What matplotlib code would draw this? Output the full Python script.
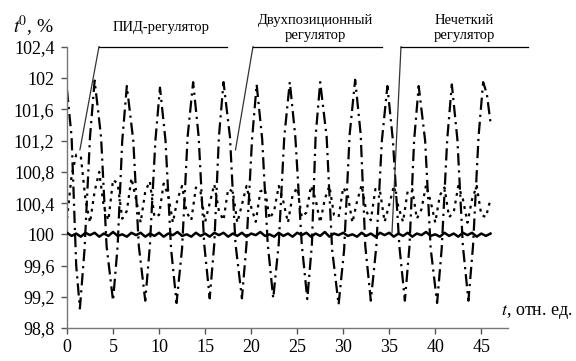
import numpy as np
import matplotlib
matplotlib.use("Agg")
import matplotlib.pyplot as plt
from matplotlib.lines import Line2D

plt.rcParams['font.family'] = ['Liberation Serif', 'DejaVu Serif']
plt.rcParams['mathtext.fontset'] = 'stix'

W, H = 576, 361

# двухпозиционный регулятор (large oscillation)
t_onoff = [0, 0.5, 1.0, 1.4, 1.9, 2.5, 3.0, 3.7, 4.3, 5.0, 5.5, 6.0, 6.5, 7.2, 7.8, 8.5,
           9.0, 9.6, 10.1, 10.7, 11.3, 11.9, 12.5, 13.1, 13.7, 14.3, 14.9, 15.5, 16.0, 16.5,
           17.0, 17.7, 18.3, 19.0, 19.5, 20.1, 20.6, 21.2, 21.8, 22.4, 23.0, 23.6, 24.2,
           24.8, 25.5, 26.1, 26.6, 27.0, 27.5, 28.2, 28.8, 29.5, 30.1, 30.7, 31.3, 31.9,
           32.4, 33.0, 33.6, 34.2, 34.8, 35.4, 36.1, 36.7, 37.2, 37.7, 38.2, 38.9, 39.5,
           40.2, 40.7, 41.3, 41.8, 42.4, 43.0, 43.6, 44.1, 44.7, 45.2, 45.6, 46.0]
onoff = [101.85, 101.25, 99.6, 99.05, 99.8, 101.25, 101.97, 101.25, 99.85, 99.15,
         99.85, 101.2, 101.9, 101.2, 99.85, 99.15, 99.85, 101.2, 101.88, 101.2,
         99.82, 99.12, 99.82, 101.25, 101.95, 101.25, 99.88, 99.18, 99.88, 101.25,
         101.95, 101.25, 99.88, 99.18, 99.88, 101.22, 101.92, 101.22, 99.88, 99.18,
         99.88, 101.25, 101.95, 101.25, 99.87, 99.17, 99.87, 101.25, 101.95, 101.25,
         99.8, 99.1, 99.8, 101.28, 101.98, 101.28, 99.85, 99.15, 99.85, 101.2,
         101.9, 101.2, 99.85, 99.15, 99.85, 101.2, 101.9, 101.2, 99.82, 99.12,
         99.82, 101.22, 101.92, 101.22, 99.85, 99.15, 99.85, 101.25, 101.95, 101.8,
         101.43]

# ПИД and нечеткий: sampled every 0.5
t_step = np.arange(0, 46.01, 0.5)
pid = [100.20, 100.75, 101.02, 101.00, 100.45, 100.15, 100.55, 100.80, 100.35, 100.18,
       100.70, 100.65, 100.20, 100.30, 100.72, 100.45, 100.15, 100.55, 100.68, 100.22,
       100.25, 100.65, 100.50, 100.15, 100.45, 100.62, 100.28, 100.18, 100.60, 100.55,
       100.16, 100.40, 100.64, 100.30, 100.18, 100.58, 100.55, 100.15, 100.38, 100.62,
       100.35, 100.16, 100.55, 100.58, 100.20, 100.30, 100.62, 100.42, 100.15, 100.50,
       100.60, 100.22, 100.28, 100.62, 100.45, 100.15, 100.45, 100.62, 100.25, 100.22,
       100.60, 100.50, 100.15, 100.42, 100.63, 100.30, 100.18, 100.58, 100.55, 100.16,
       100.38, 100.62, 100.35, 100.16, 100.55, 100.58, 100.20, 100.32, 100.63, 100.42,
       100.15, 100.50, 100.60, 100.22, 100.28, 100.62, 100.45, 100.15, 100.45, 100.62,
       100.25, 100.22, 100.45]
fuzzy = [100.02, 99.98, 100.01, 99.97, 100.02, 99.99, 100.02, 99.97, 100.01, 99.98,
         100.03, 99.98, 100.00, 99.97, 100.02, 99.99, 100.02, 99.97, 100.01, 99.98,
         100.02, 99.97, 100.01, 99.99, 100.03, 99.98, 100.00, 99.97, 100.02, 99.98,
         100.01, 99.97, 100.02, 99.99, 100.02, 99.97, 100.01, 99.98, 100.02, 99.97,
         100.01, 99.99, 100.03, 99.98, 100.00, 99.97, 100.02, 99.98, 100.01, 99.97,
         100.02, 99.99, 100.02, 99.97, 100.01, 99.98, 100.03, 99.97, 100.01, 99.99,
         100.02, 99.98, 100.00, 99.97, 100.02, 99.98, 100.01, 99.97, 100.02, 99.99,
         100.02, 99.97, 100.01, 99.98, 100.02, 99.97, 100.01, 99.99, 100.03, 99.98,
         100.00, 99.97, 100.02, 99.98, 100.01, 99.97, 100.02, 99.99, 100.02, 99.97,
         100.01, 99.98, 100.01]

xticks = [0, 5, 10, 15, 20, 25, 30, 35, 40, 45]
yticks = [98.8, 99.2, 99.6, 100, 100.4, 100.8, 101.2, 101.6, 102, 102.4]
ylabels = ['98,8', '99,2', '99,6', '100', '100,4', '100,8', '101,2', '101,6', '102', '102,4']

fig = plt.figure(figsize=(W / 100, H / 100), dpi=100)
ax = fig.add_axes([67 / W, 1 - 328 / H, (508 - 67) / W, (328 - 47) / H])

ax.plot(t_onoff, onoff, color='k', lw=1.6, dashes=(5.5, 2.2, 1, 2.2))
ax.plot(t_step, pid, color='k', lw=1.6, dashes=(1.3, 2.2))
ax.plot(t_step, fuzzy, color='k', lw=1.8, zorder=5)

ax.set_xlim(0, 47.9)
ax.set_ylim(98.8, 102.4)
ax.set_xticks(xticks)
ax.set_xticklabels([str(x) for x in xticks])
ax.set_yticks(yticks)
ax.set_yticklabels(ylabels)
for s in ['top', 'right']:
    ax.spines[s].set_visible(False)
for s in ['left', 'bottom']:
    ax.spines[s].set_color('#777777')
    ax.spines[s].set_linewidth(1.0)
ax.tick_params(direction='out', length=4, width=1.0, color='#555555',
               labelsize=13)
ax.tick_params(axis='y', pad=5)
ax.tick_params(axis='x', pad=4)

# axis titles
fig.text(13 / W, 1 - 26 / H, r'$\mathbf{\mathit{t}}^0$, %', fontsize=14,
         ha='left', va='center')
fig.text(573 / W, 1 - 312 / H, r'$\mathit{t}$, отн. ед.', fontsize=13,
         ha='right', va='center')


def label(text, cx, cy, x0, x1, tip):
    fig.text(cx / W, 1 - cy / H, text, fontsize=10.5, ha='center', va='center',
             linespacing=1.25)
    fig.add_artist(Line2D([x0 / W, x1 / W], [1 - 46.5 / H, 1 - 46.5 / H],
                          color='k', lw=0.9))
    ax.annotate('', xy=tip, xycoords='data',
                xytext=(x0 / W, 1 - 46.5 / H), textcoords='figure fraction',
                arrowprops=dict(arrowstyle='-', lw=0.9, color='#333333',
                                shrinkA=0, shrinkB=0), annotation_clip=False)


label('ПИД-регулятор', 161, 27, 99, 227, (1.4, 101.08))
label('Двухпозиционный\nрегулятор', 315, 28, 253, 382, (18.3, 101.08))
label('Нечеткий\nрегулятор', 464, 28, 401, 528, (35.3, 100.02))

fig.savefig('out.png', dpi=100)
